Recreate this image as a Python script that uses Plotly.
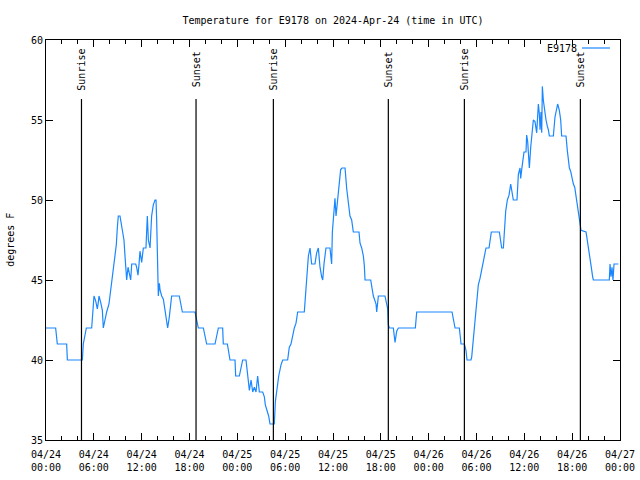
import pandas as pd
import plotly.graph_objects as go

# ---- data ----
start = "2024-04-24 00:00"
hours = [0.00, 1.21, 1.42, 2.59, 2.68, 4.56, 4.68, 4.98, 5.06, 5.73, 5.90, 6.02, 6.23, 6.44, 6.56, 6.65,
         6.86, 7.07, 7.19, 7.40, 7.61, 7.90, 8.11, 8.32, 8.45, 8.61, 8.82, 8.95, 9.07, 9.28, 9.45, 9.57,
         9.78, 9.91, 9.99, 10.12, 10.29, 10.45, 10.62, 10.75, 11.25, 11.37, 11.54, 11.67, 11.79, 12.00,
         12.21, 12.54, 12.71, 12.84, 13.05, 13.25, 13.46, 13.67, 13.80, 13.88, 13.97, 14.01, 14.09, 14.22,
         14.30, 14.51, 14.72, 14.93, 15.14, 15.26, 15.47, 15.64, 15.76, 16.72, 16.89, 17.10, 18.69, 18.90,
         19.11, 19.74, 19.94, 20.15, 21.20, 21.41, 21.62, 22.16, 22.24, 22.75, 22.87, 23.08, 23.71, 23.79,
         24.25, 24.46, 24.67, 25.09, 25.30, 25.51, 25.72, 25.93, 26.13, 26.34, 26.55, 26.76, 27.18, 27.39,
         27.51, 27.72, 27.93, 28.10, 28.64, 28.77, 28.93, 29.19, 29.48, 29.69, 30.31, 30.52, 30.73, 30.94,
         31.15, 31.36, 31.57, 32.40, 32.49, 32.70, 32.91, 33.12, 33.32, 33.74, 33.95, 34.16, 34.37, 34.58,
         34.71, 34.87, 35.12, 35.62, 35.83, 35.92, 36.13, 36.25, 36.38, 36.59, 36.80, 36.96, 37.13, 37.51,
         37.72, 37.92, 38.13, 38.34, 38.47, 38.55, 39.26, 39.39, 39.60, 39.81, 39.93, 40.02, 40.73, 40.94,
         41.06, 41.40, 41.48, 41.69, 42.52, 42.73, 42.86, 42.94, 43.07, 43.57, 43.78, 43.99, 44.20, 46.33,
         46.50, 50.93, 51.10, 51.31, 51.85, 52.06, 52.48, 52.68, 52.81, 53.31, 53.40, 53.60, 53.81, 54.02,
         54.23, 54.44, 54.65, 54.86, 55.07, 55.19, 55.57, 55.70, 55.86, 56.87, 57.03, 57.16, 57.37, 57.49,
         57.66, 57.87, 58.08, 58.29, 58.45, 58.62, 59.08, 59.25, 59.46, 59.54, 59.67, 59.79, 59.96, 60.21,
         60.29, 60.42, 60.55, 60.63, 60.80, 60.96, 61.13, 61.34, 61.55, 61.76, 61.88, 61.97, 62.09, 62.18,
         62.26, 62.38, 62.59, 62.72, 62.89, 63.01, 63.14, 63.64, 63.85, 64.06, 64.18, 64.39, 64.56, 64.68,
         65.23, 65.39, 65.52, 65.65, 65.81, 65.98, 66.15, 66.32, 66.48, 66.65, 66.82, 66.99, 67.11, 67.74,
         67.91, 68.07, 68.24, 68.37, 68.57, 68.66, 70.66, 70.75, 70.87, 71.00, 71.12, 71.25, 71.79]
temps = [42.0, 42.0, 41.0, 41.0, 40.0, 40.0, 41.0, 41.7, 42.0, 42.0, 43.0, 44.0, 43.7, 43.2, 43.6, 44.0,
         43.6, 43.1, 42.0, 42.6, 43.0, 43.5, 44.4, 45.2, 45.9, 46.6, 47.2, 48.3, 49.0, 49.0, 48.5, 48.1,
         47.5, 46.5, 45.6, 45.0, 45.8, 45.3, 45.0, 46.0, 46.0, 45.8, 45.3, 46.0, 46.8, 46.1,
         47.0, 47.0, 49.0, 47.5, 47.0, 49.0, 49.7, 50.0, 50.0, 48.8, 47.0, 45.0, 44.0, 44.8,
         44.4, 44.0, 43.8, 43.1, 42.5, 42.0, 42.7, 43.4, 44.0, 44.0, 43.6, 43.0, 43.0, 42.5,
         42.0, 42.0, 41.5, 41.0, 41.0, 41.5, 42.0, 42.0, 41.0, 41.0, 40.5, 40.0, 40.0, 39.0,
         39.0, 39.6, 40.0, 40.0, 39.0, 38.1, 38.75, 38.0, 38.3, 38.0, 39.0, 38.0, 38.0, 37.7,
         37.2, 36.9, 36.5, 36.0, 36.0, 37.4, 38.1, 39.0, 39.7, 40.0, 40.0, 40.8, 41.0, 41.6,
         42.0, 42.3, 43.0, 43.0, 43.75, 45.0, 46.5, 47.0, 46.0, 46.0, 46.7, 47.0, 45.8, 45.2,
         45.0, 46.0, 47.0, 47.0, 46.0, 48.0, 49.4, 50.1, 49.0, 50.1, 51.25, 51.9, 52.0, 52.0,
         50.7, 49.8, 49.0, 48.75, 48.3, 48.0, 48.0, 47.3, 47.0, 46.5, 45.9, 45.0, 45.0, 44.5,
         44.0, 43.5, 43.0, 44.0, 44.0, 43.5, 43.2, 42.2, 42.0, 42.0, 41.1, 41.8, 42.0, 42.0,
         43.0, 43.0, 42.5, 42.0, 42.0, 41.0, 41.0, 40.6, 40.0, 40.0, 40.2, 41.25, 42.5, 43.5,
         44.7, 45.1, 45.6, 46.25, 46.8, 47.0, 47.0, 47.6, 48.0, 48.0, 47.5, 47.0, 47.0, 48.3,
         49.3, 50.0, 50.3, 51.0, 50.4, 50.0, 50.0, 51.6, 52.0, 51.35, 51.9, 52.5, 53.0, 53.0,
         54.06, 53.65, 52.5, 52.0, 53.3, 54.06, 55.0, 54.9, 54.2, 56.0, 55.4, 54.4, 55.5, 54.2,
         57.1, 56.25, 55.2, 55.0, 54.6, 54.4, 54.0, 54.0, 55.2, 55.8, 56.0, 55.6, 55.0, 54.0,
         54.0, 53.1, 52.4, 52.0, 51.8, 51.35, 51.0, 50.8, 50.2, 49.7, 48.85, 48.5, 48.1, 48.0,
         47.5, 47.0, 46.5, 45.9, 45.2, 45.0, 45.0, 46.0, 45.2, 45.8, 45.0, 46.0, 46.0]

sun_hours = [4.45, 18.82, 28.52, 42.94, 52.48, 67.03]
sun_labels = ["Sunrise", "Sunset", "Sunrise", "Sunset", "Sunrise", "Sunset"]

tick_hours = list(range(0, 73, 6))
series_name = "E9178"
title_text = "Temperature for E9178 on 2024-Apr-24 (time in UTC)"
y_title = "degrees F"

# ---- build ----
t0 = pd.Timestamp(start)
times = [t0 + pd.Timedelta(hours=h) for h in hours]
sun_times = [t0 + pd.Timedelta(hours=h) for h in sun_hours]
tick_times = [t0 + pd.Timedelta(hours=h) for h in tick_hours]
tick_text = [t.strftime("%m/%d") + "<br>" + t.strftime("%H:%M") for t in tick_times]

FONT = "DejaVu Sans Mono"
BLUE = "#1a87ff"
W, H = 640, 480

fig = go.Figure()
fig.add_trace(go.Scatter(x=times, y=temps, mode="lines", name=series_name,
                         line=dict(color=BLUE, width=1.2), showlegend=False))

shapes = []
annotations = []
for st, lab in zip(sun_times, sun_labels):
    shapes.append(dict(type="line", xref="x", yref="paper", x0=st, x1=st, y0=0, y1=0.8525,
                       line=dict(color="black", width=1.2)))
    annotations.append(dict(x=st, y=0.927, xref="x", yref="paper", text=lab, textangle=-90,
                            showarrow=False, xanchor="center", yanchor="middle",
                            font=dict(family=FONT, size=10, color="black")))

# legend key (gnuplot style: text then line)
annotations.append(dict(x=0.9286, y=0.98, xref="paper", yref="paper", text=series_name,
                        showarrow=False, xanchor="right", yanchor="middle",
                        font=dict(family=FONT, size=10, color="black")))
shapes.append(dict(type="line", xref="paper", yref="paper", x0=0.9338, x1=0.9826, y0=0.98, y1=0.98,
                   line=dict(color=BLUE, width=1.2)))
# y title
annotations.append(dict(x=-0.063, y=0.5, xref="paper", yref="paper", text=y_title, textangle=-90,
                        showarrow=False, xanchor="center", yanchor="middle",
                        font=dict(family=FONT, size=10, color="black")))

fig.update_layout(
    width=W, height=H,
    margin=dict(l=46, r=20, t=40, b=40, autoexpand=False),
    paper_bgcolor="white", plot_bgcolor="white",
    title=dict(text=title_text, x=333 / W, xanchor="center", y=1 - 20 / H, yanchor="middle",
               font=dict(family=FONT, size=10, color="black")),
    font=dict(family=FONT, size=10, color="black"),
    shapes=shapes, annotations=annotations,
    showlegend=False,
)
fig.update_xaxes(range=[tick_times[0], tick_times[-1]], tickvals=tick_times, ticktext=tick_text,
                 ticks="inside", ticklen=7, tickcolor="black", tickwidth=1, ticklabelstandoff=5,
                 minor=dict(dtick=2 * 3600 * 1000, ticks="inside", ticklen=4, tickcolor="black", showgrid=False),
                 showline=True, linecolor="black", linewidth=1, mirror="ticks",
                 showgrid=False, zeroline=False, tickangle=0,
                 tickfont=dict(family=FONT, size=10, color="black"))
fig.update_yaxes(range=[35, 60], dtick=5, tick0=35, ticks="inside", ticklen=7, tickcolor="black",
                 showline=True, linecolor="black", linewidth=1, mirror="ticks",
                 showgrid=False, zeroline=False,
                 tickfont=dict(family=FONT, size=10, color="black"))

fig.write_html("out.html", config={"displayModeBar": False},
               post_script="document.body.style.margin='0';document.body.style.overflow='hidden';")
